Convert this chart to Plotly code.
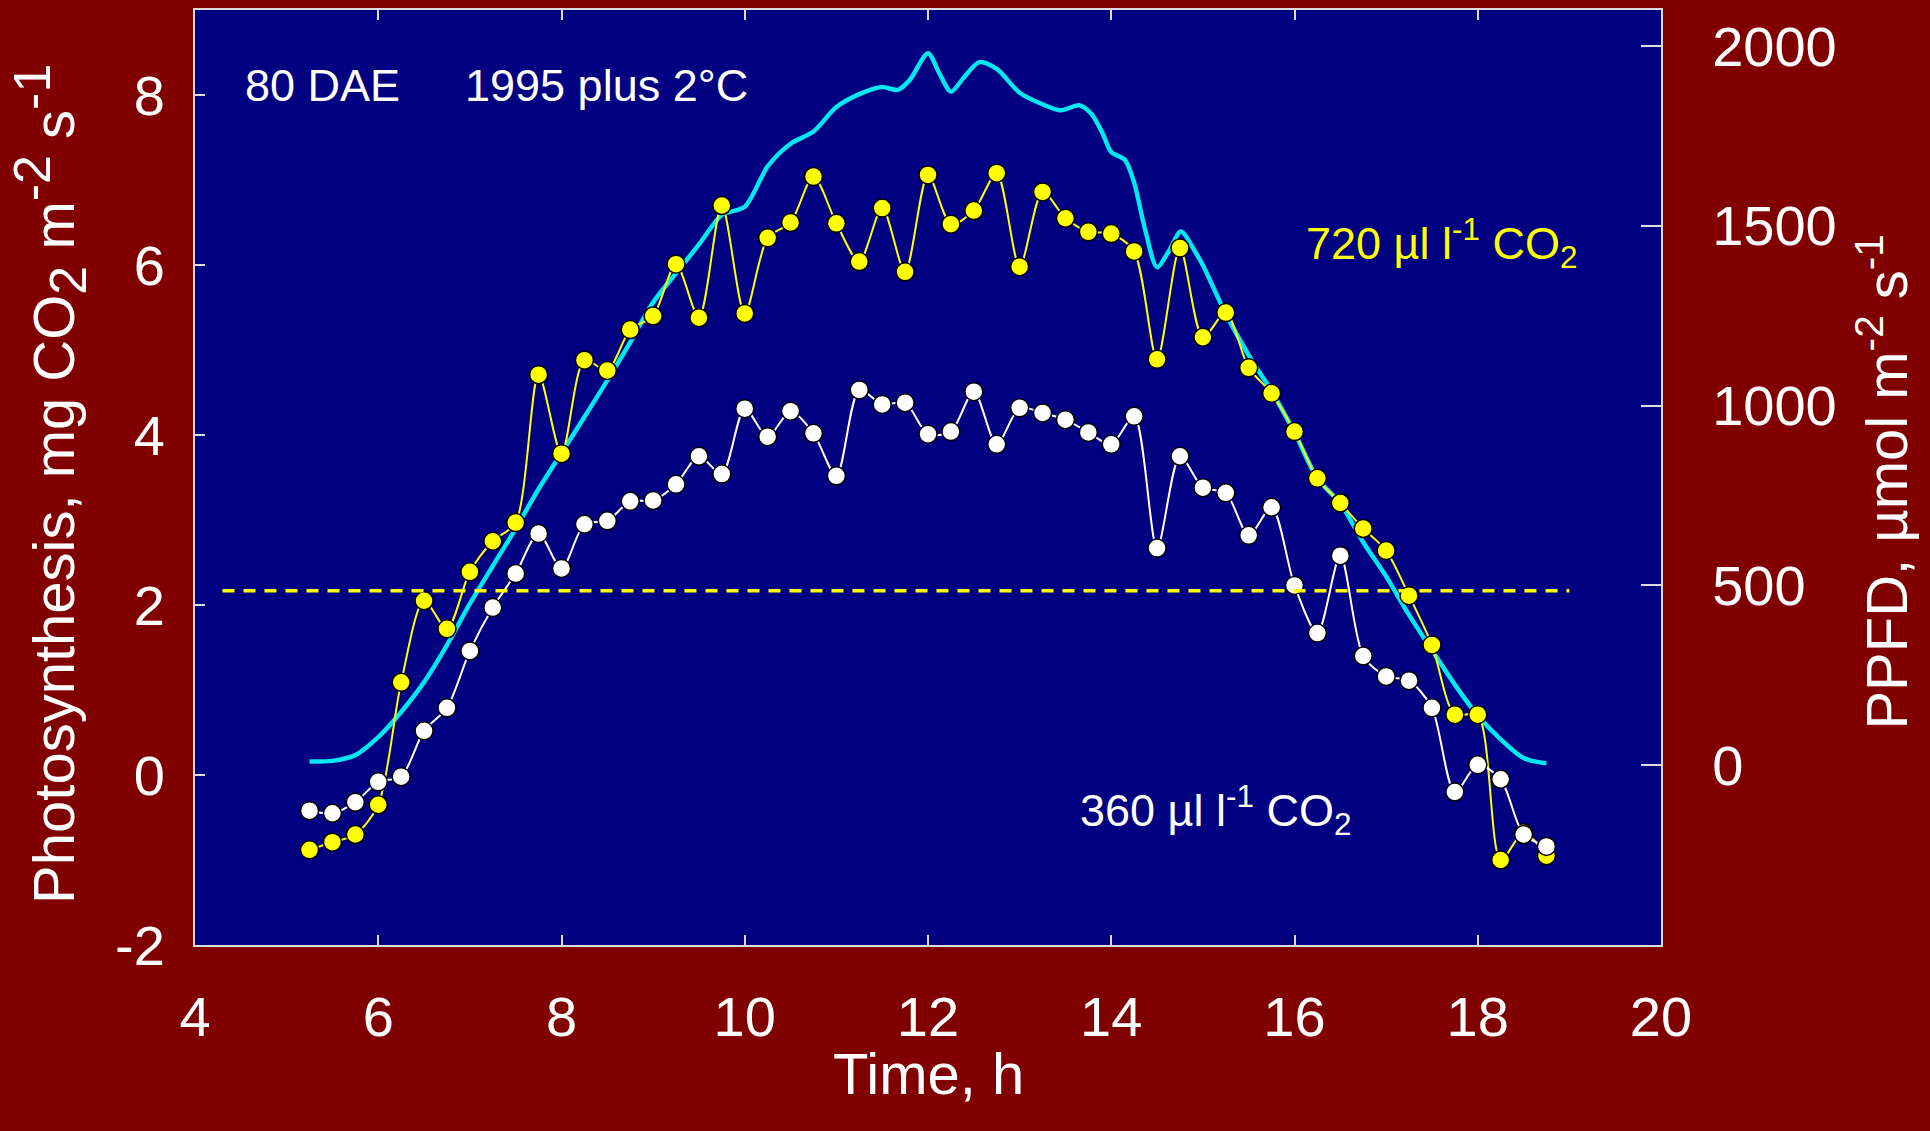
import plotly.graph_objects as go

# ---------------- data ----------------
time_h = [5.25, 5.5, 5.75, 6.0, 6.25, 6.5, 6.75, 7.0, 7.25, 7.5, 7.75, 8.0, 8.25, 8.5,
          8.75, 9.0, 9.25, 9.5, 9.75, 10.0, 10.25, 10.5, 10.75, 11.0, 11.25, 11.5,
          11.75, 12.0, 12.25, 12.5, 12.75, 13.0, 13.25, 13.5, 13.75, 14.0, 14.25,
          14.5, 14.75, 15.0, 15.25, 15.5, 15.75, 16.0, 16.25, 16.5, 16.75, 17.0,
          17.25, 17.5, 17.75, 18.0, 18.25, 18.5, 18.75]

ps_720 = [-0.88, -0.79, -0.70, -0.35, 1.09, 2.05, 1.72, 2.39, 2.75, 2.97, 4.71, 3.78,
          4.88, 4.76, 5.24, 5.40, 6.01, 5.38, 6.70, 5.43, 6.32, 6.50, 7.04, 6.49, 6.04,
          6.67, 5.92, 7.06, 6.48, 6.64, 7.08, 5.98, 6.86, 6.55, 6.39, 6.37, 6.16, 4.89,
          6.20, 5.15, 5.44, 4.79, 4.49, 4.04, 3.49, 3.20, 2.90, 2.64, 2.11, 1.53, 0.71,
          0.71, -1.00, -0.68, -0.95]

ps_360 = [-0.42, -0.45, -0.32, -0.08, -0.02, 0.52, 0.79, 1.46, 1.97, 2.37, 2.84, 2.43,
          2.95, 2.99, 3.22, 3.23, 3.42, 3.75, 3.54, 4.31, 3.98, 4.28, 4.02, 3.52, 4.53,
          4.36, 4.38, 4.01, 4.04, 4.51, 3.89, 4.32, 4.26, 4.18, 4.03, 3.89, 4.22, 2.67,
          3.75, 3.38, 3.32, 2.82, 3.15, 2.23, 1.67, 2.58, 1.40, 1.16, 1.11, 0.79, -0.20,
          0.12, -0.05, -0.70, -0.84]

ppfd_time = [5.25, 5.5, 5.75, 6.0, 6.25, 6.5, 6.75, 7.0, 7.25, 7.5, 7.75, 8.0, 8.25,
             8.5, 8.75, 9.0, 9.25, 9.5, 9.75, 10.0, 10.25, 10.5, 10.75, 11.0, 11.25,
             11.5, 11.67, 11.8, 12.0, 12.12, 12.25, 12.4, 12.56, 12.75, 13.0, 13.25,
             13.45, 13.65, 13.78, 13.9, 14.0, 14.15, 14.25, 14.37, 14.5, 14.63, 14.76,
             14.92, 15.0, 15.25, 15.5, 15.75, 16.0, 16.25, 16.5, 16.75, 17.0, 17.25,
             17.5, 17.75, 18.0, 18.25, 18.5, 18.75]
ppfd = [10, 12, 28, 78, 148, 231, 334, 449, 554, 658, 768, 868, 968, 1070, 1176, 1287,
        1368, 1448, 1530, 1553, 1665, 1728, 1762, 1830, 1866, 1886, 1878, 1905, 1980,
        1926, 1873, 1915, 1955, 1936, 1870, 1838, 1821, 1835, 1812, 1760, 1705, 1683,
        1620, 1489, 1385, 1430, 1484, 1426, 1390, 1255, 1140, 1040, 925, 797, 728, 620,
        525, 418, 320, 224, 138, 72, 20, 5]

ppfd_reference = 485          # dashed horizontal line (PPFD units)
ref_line_x = [4.3, 19.0]

x_ticks = [4, 6, 8, 10, 12, 14, 16, 18, 20]
ps_ticks = [-2, 0, 2, 4, 6, 8]
ps_ticktext = ["-2", "0", "2", "4", "6", "8"]
ppfd_ticks = [0, 500, 1000, 1500, 2000]

# ---------------- style ----------------
FONT = "Liberation Sans, Arial, sans-serif"
PAPER = "#800000"
PLOT = "#000080"
FRAME = "#dcdcdc"
CYAN = "#00e8f2"
YELLOW = "#ffff00"
WHITE = "#ffffff"

fig = go.Figure()

# PPFD on primary (right) axis, drawn first so it lies underneath
fig.add_trace(go.Scatter(
    x=ppfd_time, y=ppfd, mode="lines",
    line=dict(color=CYAN, width=4.5, shape="spline", smoothing=0.8),
    yaxis="y", hoverinfo="skip", showlegend=False))

fig.add_trace(go.Scatter(
    x=time_h, y=ps_720, mode="lines+markers",
    line=dict(color=YELLOW, width=2, shape="spline", smoothing=0.8),
    marker=dict(size=18, color=YELLOW, line=dict(color="black", width=1.5)),
    yaxis="y2", showlegend=False))

fig.add_trace(go.Scatter(
    x=time_h, y=ps_360, mode="lines+markers",
    line=dict(color=WHITE, width=2, shape="spline", smoothing=0.8),
    marker=dict(size=18, color=WHITE, line=dict(color="black", width=1.5)),
    yaxis="y2", showlegend=False))

fig.add_shape(type="line", xref="x", yref="y",
              x0=ref_line_x[0], x1=ref_line_x[1], y0=ppfd_reference, y1=ppfd_reference,
              line=dict(color=YELLOW, width=3.5, dash="12px,9px"), layer="above")

ann_font = dict(family=FONT, size=45)
big = '<span style="font-size:52px">'
annotations = [
    dict(x=4.52, y=8.11, xref="x", yref="y2", text="80 DAE", showarrow=False,
         xanchor="left", yanchor="middle", font=dict(ann_font, color=WHITE)),
    dict(x=6.93, y=8.11, xref="x", yref="y2", text="1995 plus 2°C", showarrow=False,
         xanchor="left", yanchor="middle", font=dict(ann_font, color=WHITE)),
    dict(x=16.1, y=6.26, xref="x", yref="y2",
         text="720 µl l<sup>-1</sup> CO<sub>2</sub>", showarrow=False,
         xanchor="left", yanchor="middle", font=dict(ann_font, color=YELLOW)),
    dict(x=13.64, y=-0.41, xref="x", yref="y2",
         text="360 µl l<sup>-1</sup> CO<sub>2</sub>", showarrow=False,
         xanchor="left", yanchor="middle", font=dict(ann_font, color=WHITE)),
    # axis titles
    dict(x=-0.099, y=0.493, xref="paper", yref="paper", textangle=-90,
         text=("Photosynthesis, mg CO<sub>" + big + "2</span></sub> m<sup>" + big +
               "-2</span></sup> s<sup>" + big + "-1</span></sup>"),
         showarrow=False, xanchor="center", yanchor="middle",
         font=dict(family=FONT, size=58, color=WHITE)),
    dict(x=1.151, y=0.496, xref="paper", yref="paper", textangle=-90,
         text="PPFD, µmol m<sup>-2</sup> s<sup>-1</sup>",
         showarrow=False, xanchor="center", yanchor="middle",
         font=dict(family=FONT, size=58, color=WHITE)),
    dict(x=0.5, y=-0.137, xref="paper", yref="paper", text="Time, h",
         showarrow=False, xanchor="center", yanchor="middle",
         font=dict(family=FONT, size=58, color=WHITE)),
]

tick_font = dict(family=FONT, size=56, color=WHITE)

fig.update_layout(
    width=1930, height=1131,
    margin=dict(l=195, r=269, t=8, b=186, pad=0),
    paper_bgcolor=PAPER, plot_bgcolor=PLOT,
    showlegend=False,
    annotations=annotations,
    xaxis=dict(range=[4, 20], tickvals=x_ticks, ticks="inside", ticklen=10,
               tickwidth=2, tickcolor=FRAME, showline=True, linecolor=FRAME,
               linewidth=2, mirror="ticks", showgrid=False, zeroline=False,
               tickfont=tick_font, ticklabelstandoff=22),
    yaxis=dict(range=[-500, 2100], tickvals=ppfd_ticks, side="right",
               ticks="inside", ticklen=20, tickwidth=2, tickcolor=FRAME,
               showline=True, linecolor=FRAME, linewidth=2, showgrid=False,
               zeroline=False, tickfont=tick_font, ticklabelstandoff=38),
    yaxis2=dict(range=[-2, 9], tickvals=ps_ticks, ticktext=ps_ticktext,
                overlaying="y", side="left", ticks="inside", ticklen=10,
                tickwidth=2, tickcolor=FRAME, showline=True, linecolor=FRAME,
                linewidth=2, showgrid=False, zeroline=False, tickfont=tick_font,
                ticklabelstandoff=17),
)

fig.write_html("out.html")
